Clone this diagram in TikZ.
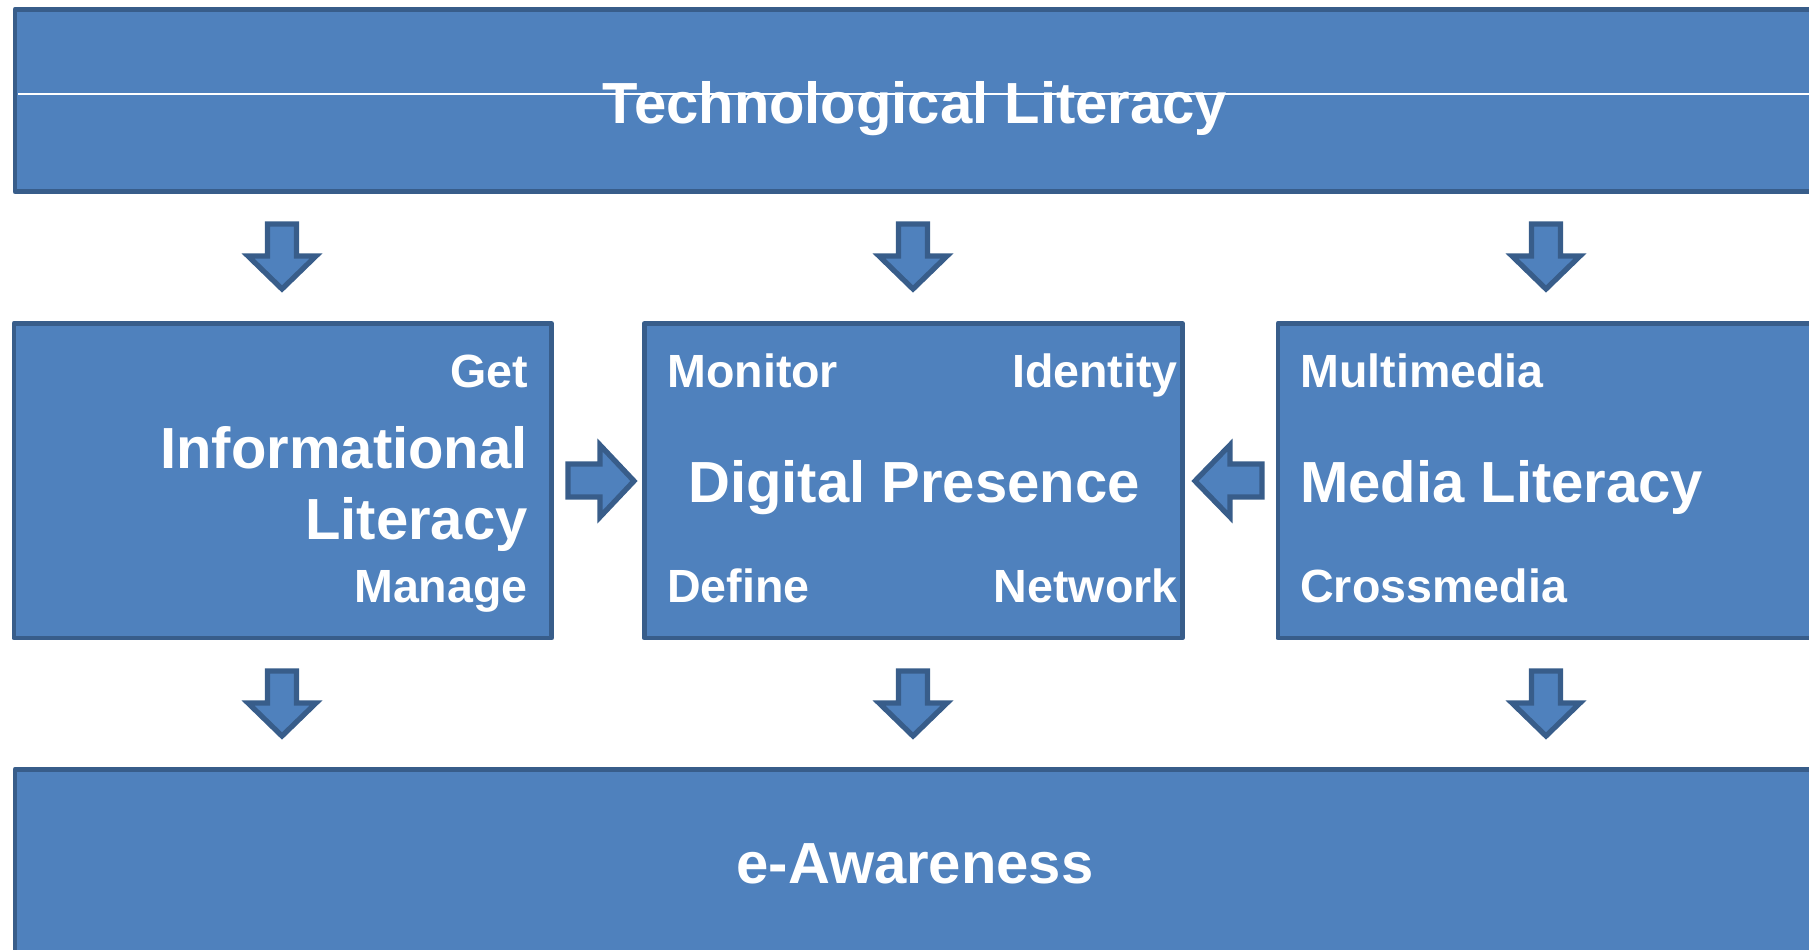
\documentclass[tikz,border=0pt]{standalone}
\usepackage{fontspec}
\setmainfont{Liberation Sans}
\usepackage{tikz}

\definecolor{boxblue}{HTML}{4F81BD}
\definecolor{edgeblue}{HTML}{385D8A}

\tikzset{
  panel/.style={fill=boxblue,draw=edgeblue,line width=2.8pt,line join=round},
  blockarrow/.style={fill=boxblue,draw=edgeblue,line width=3pt,line join=miter},
  bigtext/.style={text=white,inner sep=0pt,font=\bfseries\fontsize{33}{40}\selectfont},
  smalltext/.style={text=white,inner sep=0pt,font=\bfseries\fontsize{26.5}{32}\selectfont}
}

\begin{document}
\begin{tikzpicture}[x=0.2mm,y=-0.2mm]
      \useasboundingbox (0,0) rectangle (1809,950);
      \clip (0,0) rectangle (1809,950);

      % panels
      \filldraw [panel] (15,9.5) rectangle (1840,191.5);
      \draw [white,line width=0.6pt] (18,94) -- (1840,94);
      \filldraw [panel] (14,323.5) rectangle (551.5,638);
      \filldraw [panel] (644.3,323.5) rectangle (1182.2,638);
      \filldraw [panel] (1278,323.5) rectangle (1840,638);
      \filldraw [panel] (15,769.5) rectangle (1840,970);

      % down arrows
      \foreach \x in {282,913,1546}
        \foreach \y in {224,671}
          \filldraw [blockarrow] (\x-14.5,\y) -- (\x+14.5,\y) -- (\x+14.5,\y+32)
            -- (\x+34,\y+32) -- (\x,\y+65) -- (\x-34,\y+32) -- (\x-14.5,\y+32) -- cycle;

      % side arrows
      \filldraw [blockarrow] (568,464) -- (600,464) -- (600,445) -- (634,481)
        -- (600,517) -- (600,497) -- (568,497) -- cycle;
      \filldraw [blockarrow] (1262,464) -- (1230,464) -- (1230,445) -- (1195,481)
        -- (1230,517) -- (1230,497) -- (1262,497) -- cycle;

      % texts
      \node [bigtext,anchor=base] (tech) at (915,123.5) {Technological Literacy};
      \node [bigtext,anchor=base] (aware) at (915,883) {e-Awareness};

      \node [smalltext,anchor=base east] (get) at (528,388) {Get};
      \node [bigtext,anchor=base east] (info) at (528,468.5) {Informational};
      \node [bigtext,anchor=base east] (infolit) at (528,540) {Literacy};
      \node [smalltext,anchor=base east] (manage) at (528,603) {Manage};

      \node [smalltext,anchor=base west] (monitor) at (667,388) {Monitor};
      \node [smalltext,anchor=base east] (identity) at (1178,388) {Identity};
      \node [bigtext,anchor=base] (presence) at (914,503) {Digital Presence};
      \node [smalltext,anchor=base west] (define) at (667,603) {Define};
      \node [smalltext,anchor=base east] (network) at (1178,603) {Network};

      \node [smalltext,anchor=base west] (multi) at (1300,388) {Multimedia};
      \node [bigtext,anchor=base west] (media) at (1300,503) {Media Literacy};
      \node [smalltext,anchor=base west] (cross) at (1300,603) {Crossmedia};
    \end{tikzpicture}
\end{document}
